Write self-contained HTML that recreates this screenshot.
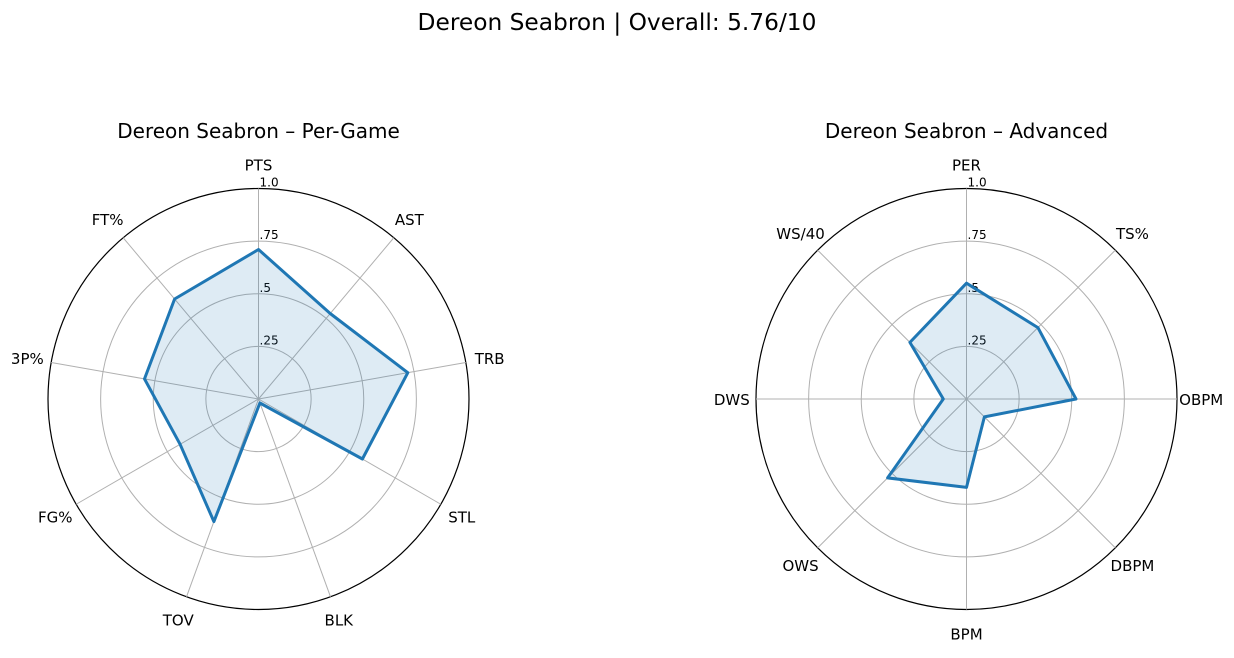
<!DOCTYPE html>
<html><head><meta charset="utf-8"><style>
body{margin:0;background:#fff;font-family:"Liberation Sans","DejaVu Sans",sans-serif}
svg text{font-family:"DejaVu Sans","Liberation Sans",sans-serif}
</style></head><body>
<svg id="chart" width="1234" height="653">
<text x="617" y="30" text-anchor="middle" font-size="23.3">Dereon Seabron | Overall: 5.76/10</text>
</svg>
<script>
const leftCategories = ["PTS","AST","TRB","STL","BLK","TOV","FG%","3P%","FT%"];
const leftValues = [0.71,0.53,0.72,0.57,0.02,0.62,0.43,0.55,0.62];
const rightCategories = ["PER","TS%","OBPM","DBPM","BPM","OWS","DWS","WS/40"];
const rightValues = [0.55,0.48,0.52,0.12,0.42,0.53,0.11,0.38];
const gridLevels = [0.25,0.5,0.75,1.0];
const gridLabels = [".25",".5",".75","1.0"];

const svg = document.getElementById('chart');
const NS = 'http://www.w3.org/2000/svg';
function mk(tag, attrs){const e=document.createElementNS(NS,tag);for(const k in attrs)e.setAttribute(k,attrs[k]);svg.appendChild(e);return e;}

function radar(cx, cy, R, cats, vals, title, prefix){
  const n = cats.length;
  const ang = i => i*2*Math.PI/n;
  const px = (i,r) => cx + Math.sin(ang(i))*r*R;
  const py = (i,r) => cy - Math.cos(ang(i))*r*R;
  const t = mk('text',{x:cx,y:cy-261,'text-anchor':'middle','font-size':20});
  t.textContent = title;
  
  
  gridLevels.forEach((g,k)=>{
    const c = mk('circle',{cx:cx,cy:cy,r:g*R,fill:'none',stroke:g===1?'#000':'#b0b0b0','stroke-width':g===1?1.2:1});
    
    
  });
  cats.forEach((c,i)=>{
    const l = mk('line',{x1:cx,y1:cy,x2:px(i,1),y2:py(i,1),stroke:'#b0b0b0','stroke-width':1});
    
    
    const lx = px(i,1.115), ly = py(i,1.115);
    const tx = mk('text',{x:lx,y:ly+6,'text-anchor':'middle','font-size':15});
    tx.textContent = c;
    
    
  });
  gridLevels.forEach((g,k)=>{
    const tx = mk('text',{x:cx+1,y:cy-g*R-2,'font-size':12});
    tx.textContent = gridLabels[k];
    
    
  });
  const pts = vals.map((v,i)=>px(i,v).toFixed(1)+','+py(i,v).toFixed(1)).join(' ');
  const p = mk('polygon',{points:pts,fill:'rgba(31,119,180,0.15)',stroke:'#1f77b4','stroke-width':3,'stroke-linejoin':'round'});
  
  
}
radar(258.5, 399, 210.5, leftCategories, leftValues, "Dereon Seabron – Per-Game", "per-game");
radar(966.5, 399, 210.5, rightCategories, rightValues, "Dereon Seabron – Advanced", "advanced");
</script>
</body></html>
